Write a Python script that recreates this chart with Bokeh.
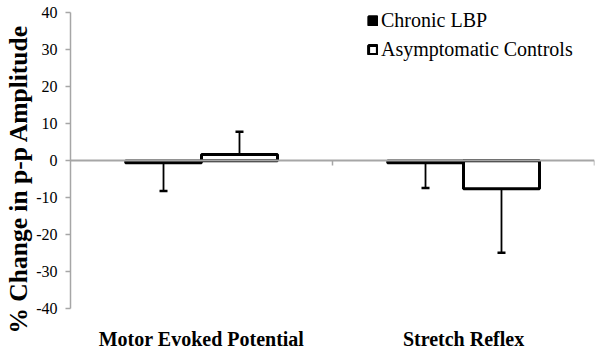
from bokeh.plotting import figure
from bokeh.models import (ColumnDataSource, Range1d, FixedTicker, LinearAxis, Legend,
                          LegendItem, Title)
from bokeh.transform import dodge
from bokeh.embed import file_html
from bokeh.resources import INLINE

categories = ["Motor Evoked Potential", "Stretch Reflex"]
series = ["Chronic LBP", "Asymptomatic Controls"]
lbp_mean = [-0.6, -0.6]
lbp_sd = [7.6, 6.8]
ctrl_mean = [1.7, -7.6]
ctrl_sd = [6.1, 17.3]
y_ticks = [-40, -30, -20, -10, 0, 10, 20, 30, 40]
y_title = "% Change in p-p Amplitude"

cat_pos = [i + 0.5 for i in range(len(categories))]
sep_pos = [i + 1 for i in range(len(categories))]

def err_end(m, s):
    return [mi + si if mi > 0 else mi - si for mi, si in zip(m, s)]

src = ColumnDataSource(dict(
    x=cat_pos,
    lbp=lbp_mean, lbp_end=err_end(lbp_mean, lbp_sd),
    ctrl=ctrl_mean, ctrl_end=err_end(ctrl_mean, ctrl_sd),
))

FONT = "Liberation Serif"
GRAY = "#a6a6a6"

p = figure(width=600, height=358, output_backend="svg", toolbar_location=None,
           x_range=Range1d(0, len(categories)), y_range=Range1d(-40, 42),
           min_border_left=69, min_border_right=6, min_border_top=5, min_border_bottom=50)
p.outline_line_color = None
p.grid.visible = False
p.background_fill_color = "white"

bw = 0.29
off = bw / 2

r1 = p.vbar(x=dodge("x", -off, range=p.x_range), top="lbp", bottom=0, width=bw, source=src,
            fill_color="black", line_color="black", line_width=2.5)
r2 = p.vbar(x=dodge("x", off, range=p.x_range), top="ctrl", bottom=0, width=bw, source=src,
            fill_color="white", line_color="black", line_width=3)

# error bars
p.segment(x0=dodge("x", -off, range=p.x_range), y0="lbp", x1=dodge("x", -off, range=p.x_range),
          y1="lbp_end", source=src, line_color="black", line_width=1.8)
p.segment(x0=dodge("x", off, range=p.x_range), y0="ctrl", x1=dodge("x", off, range=p.x_range),
          y1="ctrl_end", source=src, line_color="black", line_width=1.8)
p.scatter(x=dodge("x", -off, range=p.x_range), y="lbp_end", source=src, marker="dash",
          size=8, line_color="black", line_width=2.5)
p.scatter(x=dodge("x", off, range=p.x_range), y="ctrl_end", source=src, marker="dash",
          size=8, line_color="black", line_width=2.5)

# x axis (category labels)
xa = p.xaxis[0]
xa.ticker = FixedTicker(ticks=cat_pos)
xa.major_label_overrides = {c: n for c, n in zip(cat_pos, categories)}
xa.axis_line_color = None
xa.major_tick_line_color = None
xa.major_tick_in = 0
xa.major_tick_out = 0
xa.minor_tick_line_color = None
xa.major_label_text_font = FONT
xa.major_label_text_font_style = "bold"
xa.major_label_text_font_size = "20px"
xa.major_label_text_color = "black"
xa.major_label_standoff = 19

# zero-line axis with category separator ticks
zx = LinearAxis(fixed_location=0, ticker=FixedTicker(ticks=sep_pos))
zx.axis_line_color = GRAY
zx.axis_line_width = 2
zx.major_tick_line_color = GRAY
zx.major_tick_line_width = 1.5
zx.major_tick_in = 0
zx.major_tick_out = 5
zx.minor_tick_line_color = None
zx.major_label_text_font_size = "0px"
zx.major_label_standoff = 0
zx.major_label_overrides = {t: "" for t in sep_pos}
p.add_layout(zx, "below")

# y axis
ya = p.yaxis[0]
ya.bounds = (y_ticks[0], y_ticks[-1])
ya.ticker = FixedTicker(ticks=y_ticks)
ya.major_label_overrides = {t: str(t) for t in y_ticks}
ya.axis_line_color = GRAY
ya.axis_line_width = 1.5
ya.major_tick_line_color = GRAY
ya.major_tick_line_width = 1.5
ya.major_tick_in = 0
ya.major_tick_out = 5
ya.minor_tick_line_color = None
ya.major_label_text_font = FONT
ya.major_label_text_font_size = "16px"
ya.major_label_text_color = "black"
ya.major_label_standoff = 8

yt = Title(text=y_title, align="left", offset=-25, standoff=2,
           text_font=FONT, text_font_style="bold", text_font_size="25.5px", text_color="black")
p.add_layout(yt, "left")

legend = Legend(items=[LegendItem(label=series[0], renderers=[r1]),
                       LegendItem(label=series[1], renderers=[r2])],
                location=(297, 247), orientation="vertical")
legend.glyph_width = 11
legend.glyph_height = 11
legend.label_standoff = 3
legend.padding = 0
legend.margin = 0
legend.spacing = 6
legend.border_line_color = None
legend.background_fill_alpha = 0
legend.label_text_font = FONT
legend.label_text_font_size = "20px"
legend.label_text_color = "black"
p.add_layout(legend, "center")

open("out.html", "w").write(file_html(p, INLINE))
